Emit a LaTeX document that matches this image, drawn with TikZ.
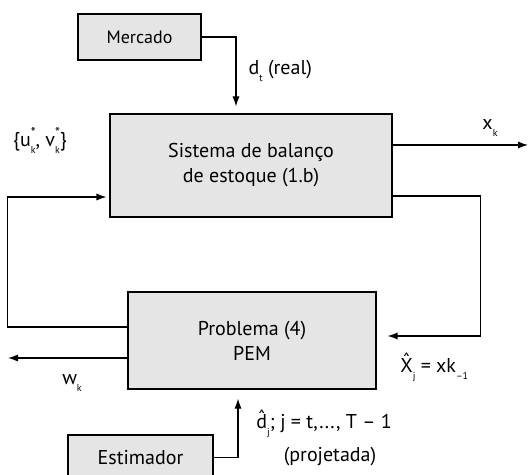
\documentclass[tikz,border=0pt]{standalone}
\usepackage{fontspec}
\setmainfont{PT Sans}
\usetikzlibrary{arrows.meta}
\newcommand{\baixo}[1]{\raisebox{-0.7ex}{\tiny #1}}
\newcommand{\estrela}[1]{\rlap{\raisebox{0.9ex}{\scriptsize *}}\raisebox{-0.7ex}{\tiny #1}}
\newcommand{\chapeu}[1]{\ooalign{#1\cr\hidewidth\raisebox{0.45ex}{ˆ}\hidewidth\cr}}
\tikzset{
  bloco/.style={draw, fill=black!10, line width=0.6pt, inner sep=0pt, align=center, font=\fontsize{10}{12.5}\selectfont},
  seta/.style={-{Latex[length=5pt,width=3.6pt]}, line width=0.6pt},
  rotulo/.style={font=\fontsize{10}{12.5}\selectfont, inner sep=0pt, align=center}
}
\begin{document}
\begin{tikzpicture}[x=0.5pt,y=-0.5pt]
\clip (0,0) rectangle (529,475);
% blocos
\node[bloco, minimum width=61.5pt, minimum height=23pt, font=\fontsize{9}{11}\selectfont] (mercado) at (139.5,37) {Mercado};
\node[bloco, minimum width=141pt, minimum height=51.5pt] (sistema) at (251,165.5) {Sistema de balanço\\de estoque (1.b)};
\node[bloco, minimum width=124pt, minimum height=48.5pt] (pem) at (252,340.5) {Problema (4)\\PEM};
\node[bloco, minimum width=72.5pt, minimum height=22.5pt] (estimador) at (140.5,457.5) {Estimador};
\coordinate (saida) at (528,145);
\coordinate (wsaida) at (8,358);
% ligacoes
\draw[seta, shorten >=3.5pt] (mercado.east) -| ([xshift=-7.5pt]sistema.north)
  node[rotulo, pos=0.72, right=6pt] (dreal) {d\baixo{t} (real)};
\draw[seta] ([yshift=10.25pt]sistema.east) -- (saida);
\draw[seta, shorten >=5.5pt] ([yshift=-15.25pt]sistema.east) -- ++(88,0) |- ([yshift=2.25pt]pem.east);
\draw[seta, shorten >=1.5pt] ([yshift=6.75pt]pem.west) -- ++(-120,0) |- ([yshift=-15.75pt]sistema.west);
\draw[seta] ([yshift=-8.75pt]pem.west) -- (wsaida);
\draw[seta, shorten >=4.5pt] (estimador.east) -| ([xshift=-7pt]pem.south);
% rotulos
\node[rotulo] (xk) at (490,128) {x\baixo{k}};
\node[rotulo] (uv) at (40,140) {\{u\estrela{k}, v\estrela{k}\}};
\node[rotulo] (wk) at (72,383) {w\baixo{k}};
\node[rotulo, anchor=west] (xhat) at (400,370) {\chapeu{X}\baixo{j} = xk\baixo{–1}};
\node[rotulo, anchor=west] (dhat) at (256,426) {\chapeu{d}\baixo{j}; j = t,..., T – 1};
\node[rotulo] (proj) at (330,457) {(projetada)};
\end{tikzpicture}
\end{document}
